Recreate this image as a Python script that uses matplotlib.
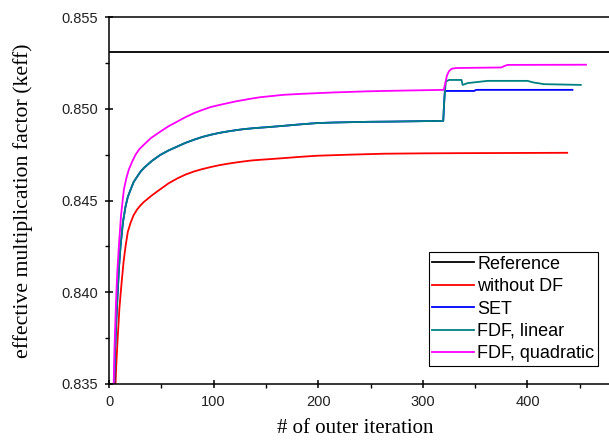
import matplotlib
matplotlib.use('Agg')
from matplotlib import pyplot as plt
from matplotlib.ticker import MultipleLocator, FormatStrFormatter

# Reference keff value (flat line)
ref_keff = 0.8531

# without DF
no_df_x = [6.2, 7, 8, 9.9, 12, 14, 15.8, 18, 20.6, 23.5, 27, 30, 33.3, 41, 49.2,
           57, 65.2, 73, 81.1, 89, 97, 105, 113, 121, 128.9, 136, 144.8, 155, 167,
           183, 199, 231, 263, 300, 334, 438]
no_df_y = [0.8350, 0.8361, 0.8372, 0.8391, 0.8405, 0.8417, 0.8425, 0.8433, 0.84378,
           0.8442, 0.84452, 0.84473, 0.84492, 0.84528, 0.84562, 0.84594, 0.84620,
           0.84641, 0.84658, 0.84671, 0.84682, 0.84692, 0.84700, 0.84707, 0.84713,
           0.84718, 0.84722, 0.84726, 0.84731, 0.84738, 0.84744, 0.8475, 0.84755,
           0.84757, 0.84758, 0.8476]

# FDF, linear
fdf_lin_x = [5, 5.7, 7, 8.3, 9.6, 11, 13.3, 15.8, 18, 20.6, 23.5, 27, 30, 33.3, 41,
             49.2, 57, 65.2, 73, 81.1, 89, 97, 105, 113, 121, 128.9, 140, 152, 167,
             183, 199, 215, 231, 250, 269, 294, 319.5,
             320.5, 322, 325, 337, 338, 343, 362, 400, 406, 416, 451]
fdf_lin_y = [0.8350, 0.8367, 0.8385, 0.8400, 0.8414, 0.8425, 0.8438, 0.84468, 0.8452,
             0.84559, 0.8460, 0.84631, 0.84656, 0.84677, 0.84716, 0.84749, 0.84773,
             0.84794, 0.84814, 0.84831, 0.84846, 0.84858, 0.84868, 0.84876, 0.84883,
             0.84889, 0.84895, 0.84900, 0.84907, 0.84915, 0.84922, 0.84925, 0.84927,
             0.84929, 0.84930, 0.84932, 0.84934,
             0.8505, 0.85148, 0.85157, 0.85157, 0.8513, 0.8514, 0.85152, 0.85152,
             0.85143, 0.85134, 0.8513]

# SET: same as FDF linear up to the jump, then its own branch
n_pre = fdf_lin_x.index(319.5) + 1
set_x = fdf_lin_x[:n_pre] + [321, 349, 351, 443]
set_y = fdf_lin_y[:n_pre] + [0.85097, 0.85097, 0.85103, 0.85103]

# FDF, quadratic
fdf_quad_x = [4.5, 5.1, 6.7, 8, 9.4, 11.5, 14.2, 16.5, 18.9, 22, 25.3, 29, 33.3, 40,
              49.2, 57, 65.2, 73, 81.1, 89, 97, 105, 113, 121, 128.9, 136.8, 144.8,
              155, 167, 183, 199, 215, 231, 247, 263, 290, 320,
              321.5, 323, 325, 327.5, 332, 375, 378, 381, 456]
fdf_quad_y = [0.8350, 0.8367, 0.8395, 0.8412, 0.8425, 0.8442, 0.84559, 0.8462,
              0.84668, 0.8471, 0.84749, 0.8478, 0.84804, 0.8484, 0.84876, 0.84905,
              0.84930, 0.84954, 0.84976, 0.84993, 0.85009, 0.8502, 0.85030, 0.8504,
              0.85048, 0.85056, 0.85063, 0.85069, 0.85076, 0.85081, 0.85085, 0.85089,
              0.85092, 0.85095, 0.85097, 0.85100, 0.85103,
              0.8514, 0.8518, 0.85205, 0.85218, 0.85222, 0.85225, 0.85233, 0.85239,
              0.85240]

plt.rcParams['font.family'] = ['Liberation Sans', 'DejaVu Sans']

fig = plt.figure(figsize=(6.09, 4.43), dpi=100)
ax = fig.add_axes([0.179, 0.1332, 0.8245, 0.8284])

lw = 1.3
ax.axhline(ref_keff, color='black', lw=lw, label='Reference')
ax.plot(no_df_x, no_df_y, color='#ff0000', lw=lw, label='without DF')
ax.plot(set_x, set_y, color='#0000ff', lw=lw, label='SET')
ax.plot(fdf_lin_x, fdf_lin_y, color='#008080', lw=lw, label='FDF, linear')
ax.plot(fdf_quad_x, fdf_quad_y, color='#ff00ff', lw=lw, label='FDF, quadratic')

ax.set_xlim(0, 480)
ax.set_ylim(0.835, 0.855)
ax.xaxis.set_major_locator(MultipleLocator(100))
ax.xaxis.set_minor_locator(MultipleLocator(50))
ax.yaxis.set_major_locator(MultipleLocator(0.005))
ax.yaxis.set_minor_locator(MultipleLocator(0.0025))
ax.yaxis.set_major_formatter(FormatStrFormatter('%.3f'))

ax.tick_params(which='major', direction='inout', length=6, width=1.1,
               labelsize=10.5, labelcolor='#222222', pad=5)
ax.tick_params(which='minor', direction='out', length=3, width=1.0)
for s in ax.spines.values():
    s.set_linewidth(1.1)

ax.set_xlabel('# of outer iteration', family='Liberation Serif', fontsize=15)
ax.set_ylabel('effective multiplication factor (keff)', family='Liberation Serif',
              fontsize=15.7)
ax.xaxis.set_label_coords(0.491, -0.095)
ax.yaxis.set_label_coords(-0.151, 0.5)

leg = ax.legend(loc='lower right', bbox_to_anchor=(0.974, 0.049), fontsize=13,
                frameon=True, fancybox=False, edgecolor='black', framealpha=1,
                handlelength=2.3, handletextpad=0.2, borderpad=0.2,
                labelspacing=0.3, borderaxespad=0)
leg.get_frame().set_linewidth(0.8)

plt.savefig('out.png', dpi=100)
